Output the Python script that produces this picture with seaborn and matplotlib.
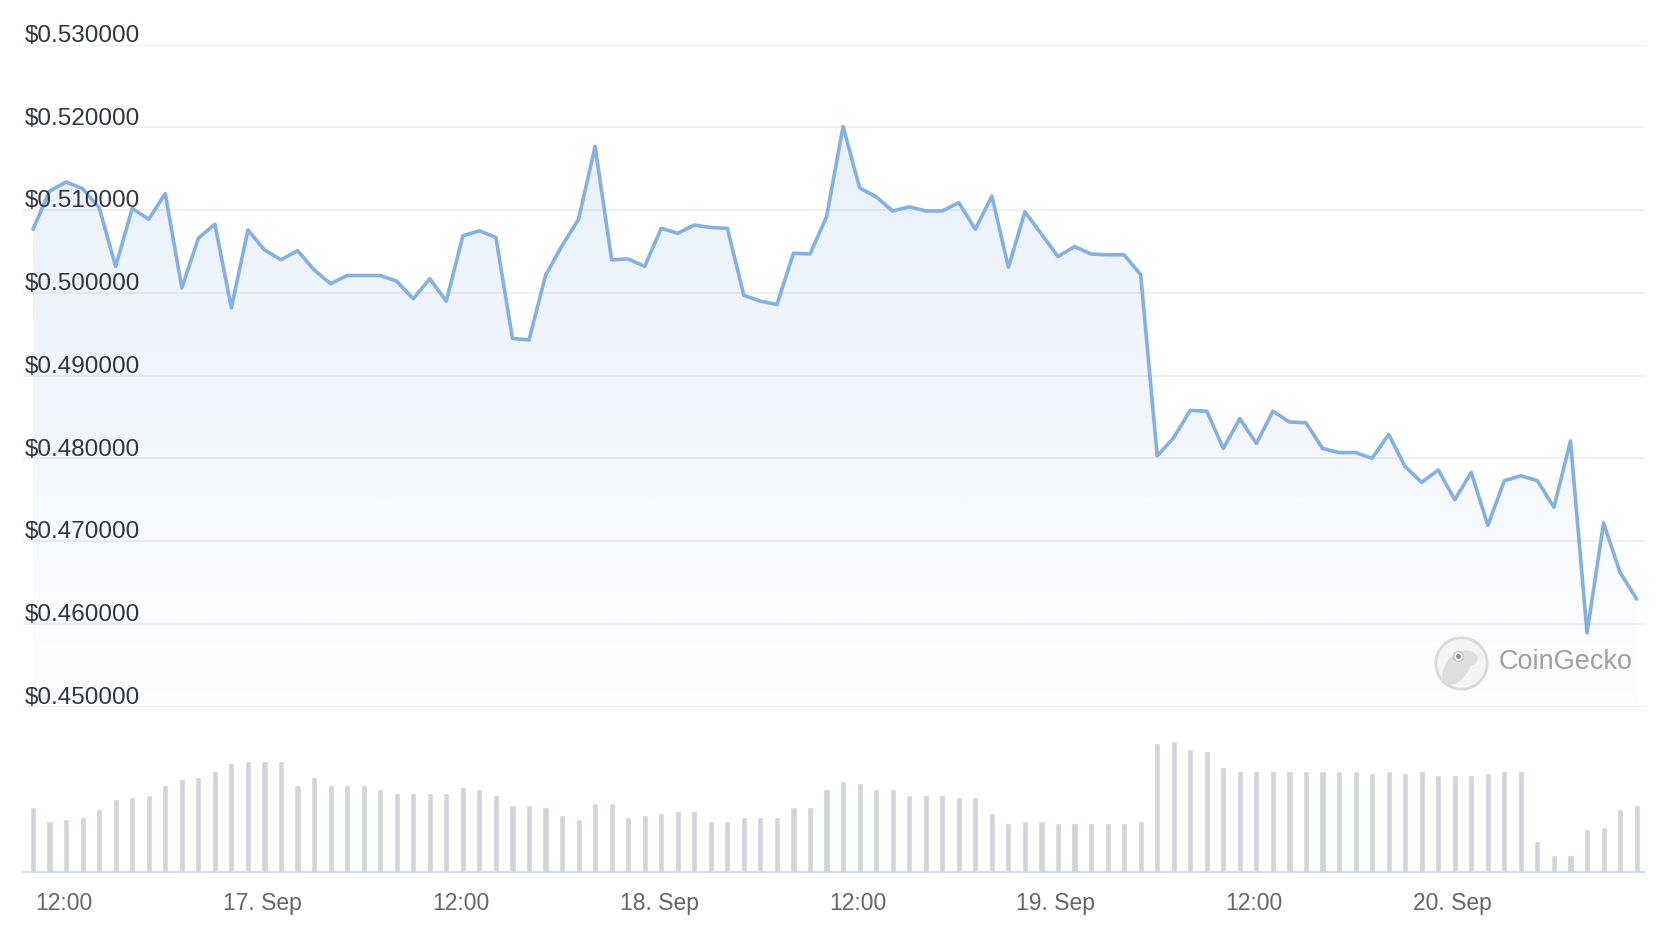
import numpy as np
import pandas as pd
import seaborn as sns
import matplotlib.pyplot as plt
import matplotlib.dates as mdates
from matplotlib.lines import Line2D
from matplotlib.patches import Ellipse

# hourly samples, first one at 10:08 on 16 Sep
START = '2023-09-16 10:08'

PRICE = [
    0.5077, 0.5123, 0.5134, 0.5126, 0.5103, 0.5032, 0.5102, 0.5089, 0.5120,
    0.5006, 0.5066, 0.5083, 0.4982, 0.5076, 0.5052, 0.5040, 0.5051, 0.5028,
    0.5011, 0.5021, 0.5021, 0.5021, 0.5014, 0.4993, 0.5017, 0.4990, 0.5069,
    0.5075, 0.5067, 0.4945, 0.4943, 0.5021, 0.5057, 0.5089, 0.5177, 0.5040,
    0.5041, 0.5032, 0.5078, 0.5072, 0.5082, 0.5079, 0.5078, 0.4997, 0.4990,
    0.4986, 0.5048, 0.5047, 0.5092, 0.5201, 0.5127, 0.5116, 0.5099, 0.5104,
    0.5099, 0.5099, 0.5109, 0.5077, 0.5117, 0.5031, 0.5098, 0.5071, 0.5044,
    0.5056, 0.5047, 0.5046, 0.5046, 0.5022, 0.4803, 0.4825, 0.4858, 0.4857,
    0.4812, 0.4848, 0.4818, 0.4857, 0.4844, 0.4843, 0.4812, 0.4807, 0.4807,
    0.4800, 0.4829, 0.4790, 0.4771, 0.4786, 0.4750, 0.4783, 0.4719, 0.4773,
    0.4779, 0.4773, 0.4741, 0.4821, 0.4589, 0.4722, 0.4662, 0.4630,
]

VOLUME = [
    19.7, 15.4, 16.0, 16.6, 19.0, 22.0, 22.6, 23.2, 26.2, 28.0, 28.6, 30.4,
    32.8, 33.4, 33.4, 33.4, 26.2, 28.6, 26.2, 26.2, 26.2, 25.0, 23.8, 23.8,
    23.8, 23.8, 25.6, 25.0, 23.2, 20.2, 20.2, 19.6, 17.2, 16.0, 20.8, 20.8,
    16.6, 17.2, 17.8, 18.4, 18.4, 15.4, 15.4, 16.6, 16.6, 16.6, 19.6, 19.6,
    25.0, 27.4, 26.8, 25.0, 25.0, 23.2, 23.2, 23.2, 22.6, 22.6, 17.8, 14.8,
    15.4, 15.4, 14.8, 14.8, 14.8, 14.8, 14.8, 15.4, 38.8, 39.4, 37.0, 36.4,
    31.6, 30.4, 30.4, 30.4, 30.4, 30.4, 30.4, 30.4, 30.4, 29.8, 30.4, 29.8,
    30.4, 29.2, 29.2, 29.2, 29.8, 30.4, 30.4, 9.4, 5.2, 5.2, 13.0, 13.6,
    19.0, 20.2,
]

Y_TICKS = [0.45, 0.46, 0.47, 0.48, 0.49, 0.50, 0.51, 0.52, 0.53]
Y_LABELS = ['$0.450000', '$0.460000', '$0.470000', '$0.480000', '$0.490000',
            '$0.500000', '$0.510000', '$0.520000', '$0.530000']

X_TICKS = ['2023-09-16 12:00', '2023-09-17 00:00', '2023-09-17 12:00',
           '2023-09-18 00:00', '2023-09-18 12:00', '2023-09-19 00:00',
           '2023-09-19 12:00', '2023-09-20 00:00']
X_LABELS = ['12:00', '17. Sep', '12:00', '18. Sep', '12:00', '19. Sep',
            '12:00', '20. Sep']

LINE_COLOR = '#84b0e2'
GRID_COLOR = '#eef0f3'
AXIS_COLOR = '#ccd6eb'


def draw_watermark(fig):
    '''
    Grey gecko badge and the CoinGecko name in the lower right corner.
    '''
    fig.add_artist(Line2D([0.877], [0.2962], marker='o', markersize=37,
                          markerfacecolor='#f4f4f4', markeredgecolor='#dadada',
                          markeredgewidth=2, transform=fig.transFigure,
                          zorder=5))
    # rough gecko head
    fig.add_artist(Ellipse((0.8742, 0.2905), 0.015, 0.036, angle=-15,
                           facecolor='#dedede', edgecolor='none',
                           transform=fig.transFigure, zorder=6))
    fig.add_artist(Ellipse((0.8800, 0.3010), 0.014, 0.017, angle=0,
                           facecolor='#dedede', edgecolor='none',
                           transform=fig.transFigure, zorder=6))
    fig.add_artist(Line2D([0.8752], [0.3035], marker='o', markersize=7,
                          markerfacecolor='white', markeredgecolor='#c2c2c2',
                          markeredgewidth=1.0, transform=fig.transFigure,
                          zorder=7))
    fig.add_artist(Line2D([0.8752], [0.3035], marker='o', markersize=3.5,
                          markerfacecolor='#8a8a8a', markeredgecolor='none',
                          transform=fig.transFigure, zorder=8))
    fig.text(0.8993, 0.2972, 'CoinGecko', fontsize=19.5, color='#a0a0a0',
             ha='left', va='center')


def main():
    sns.set_style('white')
    plt.rcParams['font.family'] = ['Liberation Sans', 'DejaVu Sans']

    df = pd.DataFrame({
        'time': pd.date_range(START, periods=len(PRICE), freq='h'),
        'price': PRICE,
        'volume': VOLUME,
    })
    df['x'] = mdates.date2num(df['time'])
    xlim = mdates.date2num(pd.to_datetime(['2023-09-16 09:33',
                                           '2023-09-20 11:38']))

    fig = plt.figure(figsize=(16.66, 9.42), dpi=100)
    ax = fig.add_axes([0.01403, 0.2499, 0.9733, 0.7027])
    ax_vol = fig.add_axes([0.01403, 0.0740, 0.9733, 0.1478])

    # price panel
    ax.set_ylim(0.45, 0.53)
    ax.set_xlim(*xlim)
    ax.set_yticks(Y_TICKS)
    ax.yaxis.grid(True, color=GRID_COLOR, linewidth=1.4)
    ax.xaxis.grid(False)
    ax.tick_params(left=False, bottom=False, labelleft=False,
                   labelbottom=False)
    for s in ax.spines.values():
        s.set_visible(False)

    # gradient fill under the line
    fill = ax.fill_between(df['x'], df['price'], 0.45, color='none',
                           linewidth=0)
    grad = np.zeros((256, 1, 4))
    grad[:, 0, 0] = 120 / 255
    grad[:, 0, 1] = 165 / 255
    grad[:, 0, 2] = 230 / 255
    grad[:, 0, 3] = np.linspace(0.18, 0.02, 256)
    im = ax.imshow(grad, extent=[xlim[0], xlim[1], 0.45, 0.53],
                   aspect='auto', origin='upper', zorder=1)
    im.set_clip_path(fill.get_paths()[0], transform=ax.transData)

    sns.lineplot(x=df['x'], y=df['price'], ax=ax, color=LINE_COLOR,
                 linewidth=2.6, solid_joinstyle='round', zorder=3)
    ax.set_xlabel('')
    ax.set_ylabel('')
    ax.set_xlim(*xlim)
    ax.set_ylim(0.45, 0.53)

    for v, lab in zip(Y_TICKS, Y_LABELS):
        ax.annotate(lab, xy=(0, v), xycoords=('axes fraction', 'data'),
                    xytext=(1, 2), textcoords='offset points',
                    ha='left', va='baseline', fontsize=17.5,
                    color='#30363f', annotation_clip=False, zorder=4)

    # volume panel
    sns.barplot(x=df['x'], y=df['volume'], ax=ax_vol, native_scale=True,
                width=0.37, color='#d1d4d9', saturation=1, errorbar=None)
    ax_vol.set_xlim(*xlim)
    ax_vol.set_ylim(0, 41.7)
    ax_vol.set_xlabel('')
    ax_vol.set_ylabel('')
    ax_vol.set_yticks([])
    ax_vol.set_xticks(mdates.date2num(pd.to_datetime(X_TICKS)))
    ax_vol.set_xticklabels(X_LABELS)
    ax_vol.tick_params(axis='x', length=12.5, width=1, color=AXIS_COLOR,
                       pad=2, labelsize=16.5, labelcolor='#666666')
    for name, s in ax_vol.spines.items():
        s.set_visible(name == 'bottom')
    ax_vol.spines['bottom'].set_color(AXIS_COLOR)
    ax_vol.spines['bottom'].set_linewidth(1.2)
    ax_vol.patch.set_alpha(0)

    draw_watermark(fig)

    fig.savefig('out.png', dpi=100)


if __name__ == '__main__':
    main()
